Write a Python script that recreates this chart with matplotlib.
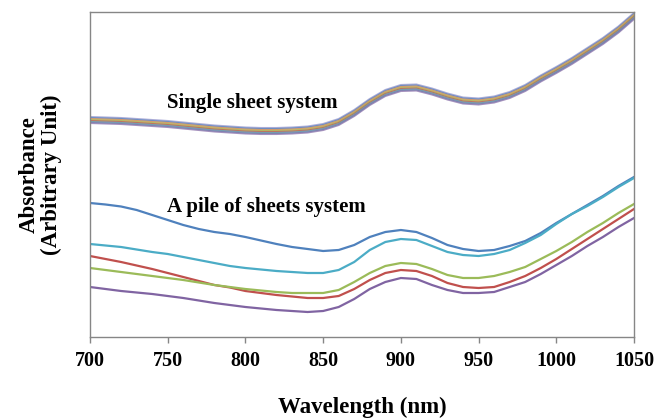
import numpy as np
import matplotlib
matplotlib.use("Agg")
import matplotlib.pyplot as plt

# wavelength grid (nm)
wavelength = np.arange(700, 1051, 10)

# single sheet system (all samples overlap)
single_sheet = [2.17, 2.165, 2.16, 2.15, 2.14, 2.13, 2.115, 2.10, 2.085, 2.075,
                2.065, 2.06, 2.06, 2.065, 2.075, 2.10, 2.15, 2.24, 2.35, 2.44,
                2.49, 2.495, 2.455, 2.405, 2.365, 2.355, 2.375, 2.42, 2.49, 2.585,
                2.67, 2.76, 2.86, 2.96, 3.075, 3.21]
# small baseline differences between the single sheet samples
single_offsets = [0.03, 0.02, 0.01, 0.0, -0.01, -0.02, -0.03]
single_colors = ['#8C8CC8', '#4F81BD', '#F79646', '#9BBB59', '#C0504D', '#4BACC6', '#8064A2']

# pile of sheets system
pile_blue = [1.34, 1.325, 1.305, 1.27, 1.22, 1.17, 1.12, 1.08, 1.05, 1.03,
             1.00, 0.965, 0.93, 0.90, 0.88, 0.86, 0.87, 0.92, 1.00, 1.05,
             1.07, 1.05, 0.99, 0.92, 0.88, 0.86, 0.87, 0.91, 0.96, 1.04,
             1.14, 1.23, 1.32, 1.41, 1.51, 1.60]
pile_aqua = [0.93, 0.915, 0.90, 0.875, 0.85, 0.83, 0.80, 0.77, 0.74, 0.71,
             0.69, 0.675, 0.66, 0.65, 0.64, 0.64, 0.67, 0.75, 0.87, 0.95,
             0.98, 0.97, 0.91, 0.85, 0.82, 0.81, 0.83, 0.87, 0.94, 1.02,
             1.13, 1.23, 1.31, 1.40, 1.50, 1.59]
pile_red = [0.81, 0.78, 0.75, 0.715, 0.68, 0.64, 0.60, 0.56, 0.52, 0.495,
            0.46, 0.44, 0.42, 0.405, 0.39, 0.39, 0.41, 0.48, 0.57, 0.64,
            0.67, 0.66, 0.61, 0.54, 0.50, 0.49, 0.50, 0.55, 0.61, 0.69,
            0.78, 0.88, 0.98, 1.08, 1.18, 1.28]
pile_green = [0.69, 0.67, 0.65, 0.63, 0.61, 0.59, 0.57, 0.545, 0.52, 0.50,
              0.48, 0.465, 0.45, 0.44, 0.44, 0.44, 0.47, 0.55, 0.64, 0.71,
              0.74, 0.73, 0.68, 0.62, 0.59, 0.59, 0.61, 0.65, 0.70, 0.78,
              0.86, 0.95, 1.05, 1.14, 1.24, 1.33]
pile_purple = [0.50, 0.48, 0.46, 0.445, 0.43, 0.41, 0.39, 0.365, 0.34, 0.32,
               0.30, 0.285, 0.27, 0.26, 0.25, 0.26, 0.30, 0.38, 0.48, 0.55,
               0.59, 0.58, 0.52, 0.47, 0.44, 0.44, 0.45, 0.50, 0.55, 0.63,
               0.72, 0.81, 0.91, 1.00, 1.10, 1.19]

pile_series = [(pile_blue, '#4F81BD'), (pile_aqua, '#4BACC6'), (pile_red, '#C0504D'),
               (pile_green, '#9BBB59'), (pile_purple, '#8064A2')]

xticks = [700, 750, 800, 850, 900, 950, 1000, 1050]

plt.rcParams['font.family'] = ['Liberation Serif', 'DejaVu Serif']
plt.rcParams['font.weight'] = 'bold'

fig = plt.figure(figsize=(6.54, 4.18), dpi=100)
ax = fig.add_axes([90 / 654, 81 / 418, 544 / 654, 325 / 418])

base = np.array(single_sheet)
for off, col in zip(single_offsets, single_colors):
    ax.plot(wavelength, base + off, color=col, lw=1.5, alpha=0.7,
            solid_joinstyle='round')

for vals, col in pile_series:
    ax.plot(wavelength, vals, color=col, lw=1.6, solid_joinstyle='round')

ax.set_xlim(700, 1050)
ax.set_ylim(0, 3.25)
ax.set_xticks(xticks)
ax.set_yticks([])

for sp in ax.spines.values():
    sp.set_color('#868686')
    sp.set_linewidth(1.0)

ax.tick_params(axis='x', direction='out', length=4, width=1, color='#868686',
               labelsize=14.5, pad=6)
for lab in ax.get_xticklabels():
    lab.set_fontweight('bold')

ax.set_xlabel('Wavelength (nm)', fontsize=16.5, fontweight='bold', labelpad=19)
ax.set_ylabel('Absorbance\n(Arbitrary Unit)', fontsize=16.5, fontweight='bold',
              labelpad=20, linespacing=1.05)

ax.text(0.1415, 0.705, 'Single sheet system', transform=ax.transAxes,
        fontsize=15, fontweight='bold', va='baseline', ha='left')
ax.text(0.1415, 0.385, 'A pile of sheets system', transform=ax.transAxes,
        fontsize=15, fontweight='bold', va='baseline', ha='left')

fig.savefig('out.png', dpi=100)
